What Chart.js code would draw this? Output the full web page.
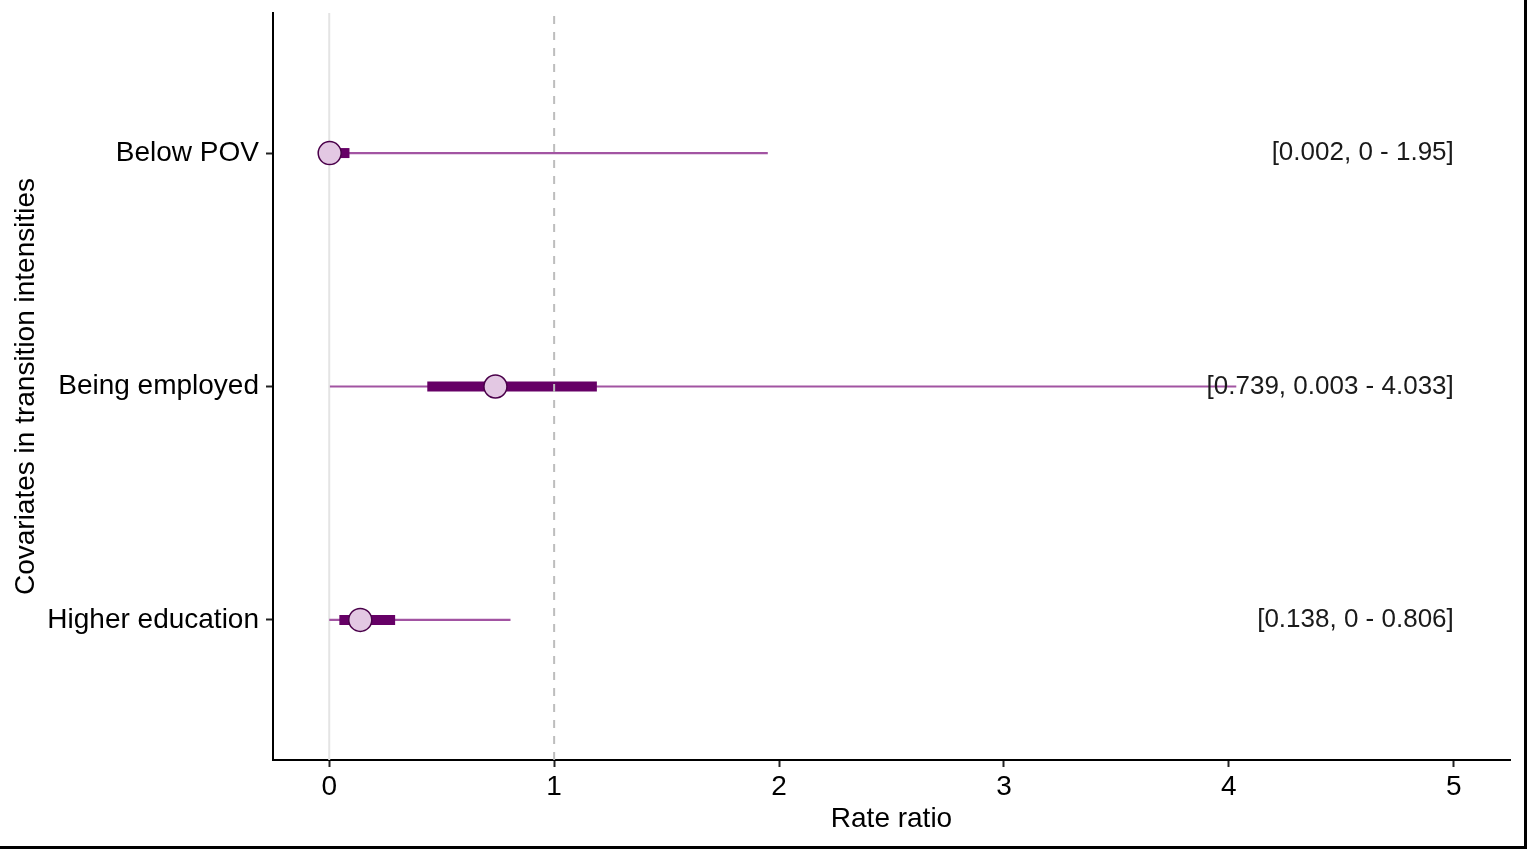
<!DOCTYPE html>
<html>
<head>
<meta charset="utf-8">
<script src="https://cdn.jsdelivr.net/npm/chart.js@4.4.1/dist/chart.umd.min.js"></script>
<style>
  html, body { margin: 0; padding: 0; background: #fff; }
  #marco { width: 1524px; height: 846px; border-right: 3px solid #000; border-bottom: 3px solid #000; }
  canvas { display: block; }
</style>
</head>
<body>
<div id="marco"><canvas id="grafica" width="1524" height="846"></canvas></div>
<script>
// datos (de abajo hacia arriba: y = 1, 2, 3)
const covariables = ["Higher education", "Being employed", "Below POV"];
const estimacion = [0.138, 0.739, 0.002];
const ic95Inf = [0, 0.003, 0];
const ic95Sup = [0.806, 4.033, 1.95];
const ic50Inf = [0.045, 0.436, 0.002];
const ic50Sup = [0.293, 1.19, 0.09];
const etiquetas = ["[0.138, 0 - 0.806]", "[0.739, 0.003 - 4.033]", "[0.002, 0 - 1.95]"];
const ticksX = [0, 1, 2, 3, 4, 5];
const ticksY = [1, 2, 3];
const lineaRef = 1;

const fuente = "'Liberation Sans', Arial, sans-serif";

const datasets = [];

// línea discontinua en 1 (encima de todo)
datasets.push({
  data: [{ x: lineaRef, y: 0.4 }, { x: lineaRef, y: 3.6 }],
  borderColor: "#bdbdbd",
  borderWidth: 2,
  borderDash: [8, 8],
  pointRadius: 0,
  order: 0
});

// puntos
datasets.push({
  data: estimacion.map((v, i) => ({ x: v, y: i + 1 })),
  showLine: false,
  pointRadius: 11.5,
  pointBackgroundColor: "#e3c8e3",
  pointBorderColor: "#4a004a",
  pointBorderWidth: 1.5,
  order: 1
});

// intervalos gruesos
covariables.forEach((c, i) => {
  datasets.push({
    data: [{ x: ic50Inf[i], y: i + 1 }, { x: ic50Sup[i], y: i + 1 }],
    borderColor: "#660066",
    borderWidth: 10,
    borderCapStyle: "butt",
    pointRadius: 0,
    order: 2
  });
});

// intervalos finos
covariables.forEach((c, i) => {
  datasets.push({
    data: [{ x: ic95Inf[i], y: i + 1 }, { x: ic95Sup[i], y: i + 1 }],
    borderColor: "#a254a2",
    borderWidth: 2.2,
    borderCapStyle: "butt",
    pointRadius: 0,
    order: 3
  });
});

// línea vertical en 0
datasets.push({
  data: [{ x: 0, y: 0.4 }, { x: 0, y: 3.6 }],
  borderColor: "#e4e4e4",
  borderWidth: 2,
  pointRadius: 0,
  order: 4
});

// texto a la derecha
const textos = {
  id: "textos",
  afterDatasetsDraw(chart) {
    const { ctx, scales } = chart;
    ctx.save();
    ctx.font = "26px " + fuente;
    ctx.fillStyle = "#1a1a1a";
    ctx.textAlign = "right";
    ctx.textBaseline = "middle";
    etiquetas.forEach((t, i) => {
      ctx.fillText(t, scales.x.getPixelForValue(5), scales.y.getPixelForValue(i + 1));
    });
    ctx.restore();
  }
};

new Chart(document.getElementById("grafica"), {
  type: "line",
  data: { datasets },
  plugins: [textos],
  options: {
    responsive: false,
    animation: false,
    events: [],
    layout: { padding: { top: 13, right: 14, left: 0, bottom: 0 } },
    plugins: { legend: { display: false }, tooltip: { enabled: false } },
    scales: {
      x: {
        type: "linear",
        min: -0.25,
        max: 5.25,
        afterBuildTicks: s => { s.ticks = ticksX.map(v => ({ value: v })); },
        afterFit: s => { s.height = 86; s.paddingLeft = 0; s.paddingRight = 0; },
        ticks: { color: "#000", font: { family: fuente, size: 28 }, padding: 3 },
        grid: { drawOnChartArea: false, tickLength: 7, tickColor: "#222", tickWidth: 2 },
        border: { color: "#000", width: 2 },
        title: { display: true, text: "Rate ratio", color: "#000", font: { family: fuente, size: 28 }, padding: { top: 0, bottom: 10 } }
      },
      y: {
        type: "linear",
        min: 0.4,
        max: 3.6,
        afterBuildTicks: s => { s.ticks = ticksY.map(v => ({ value: v })); },
        afterFit: s => { s.width = 273; s.paddingTop = 0; s.paddingBottom = 0; },
        ticks: { color: "#000", font: { family: fuente, size: 28 }, padding: 7, callback: v => covariables[v - 1] },
        grid: { drawOnChartArea: false, tickLength: 7, tickColor: "#222", tickWidth: 2 },
        border: { color: "#000", width: 2 },
        title: { display: true, text: "Covariates in transition intensities", color: "#000", font: { family: fuente, size: 28 }, padding: { top: 9, bottom: 0 } }
      }
    }
  }
});
</script>
</body>
</html>
